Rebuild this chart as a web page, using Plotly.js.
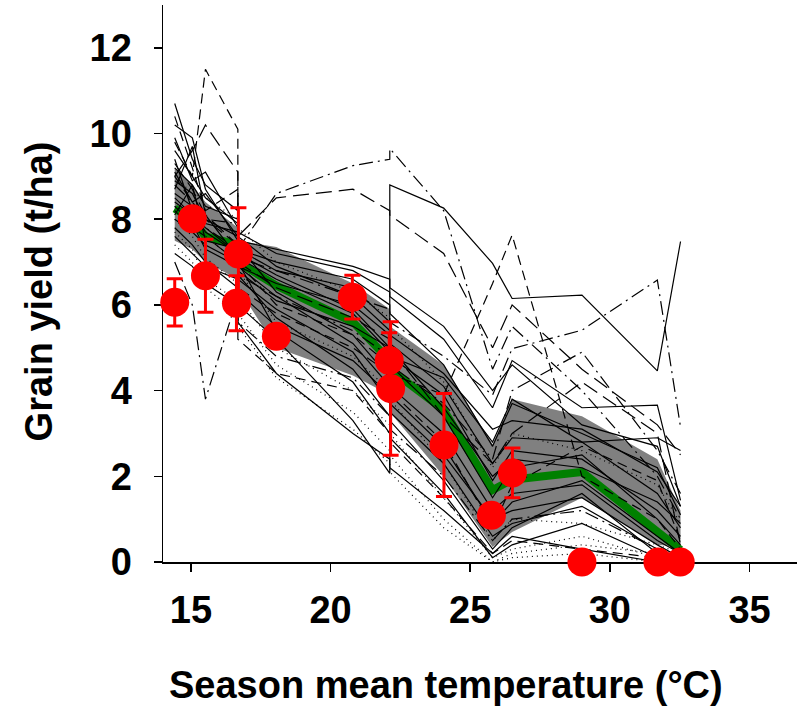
<!DOCTYPE html>
<html>
<head>
<meta charset="utf-8">
<script src="https://cdn.plot.ly/plotly-3.0.1.min.js"></script>
<style>html,body{margin:0;padding:0;background:#fff;}#chart{width:797px;height:708px;}</style>
</head>
<body>
<div id="chart"></div>
<script>
// Site season mean temperatures (model simulations are evaluated at these)
const siteT = [14.42, 15.05, 15.52, 16.68, 16.68, 18.06, 20.8, 22.12, 22.12, 24.05, 25.8, 26.5, 29.0, 31.7, 32.53];

// Ensemble median and inter-quartile band
const medianY = [8.25, 8.0, 7.6, 7.4, 7.0, 6.45, 5.6, 4.7, 4.5, 3.55, 1.68, 1.92, 2.1, 0.72, 0.28];
const bandUpper = [9.2, 8.8, 8.4, 7.8, 7.5, 7.35, 6.5, 5.9, 5.5, 4.6, 2.75, 3.8, 3.4, 2.4, 1.2];
const bandLower = [7.5, 7.3, 7.0, 6.6, 6.4, 5.0, 4.35, 3.9, 3.5, 2.0, 0.35, 0.7, 1.5, 0.4, 0.35];

// Individual crop models
const m01 = [8.9, 8.6, 8.0, 7.6, 7.2, 6.7, 5.9, 5.0, 4.8, 3.9, 1.9, 2.6, 2.4, 1.2, 0.6];
const m02 = [9.6, 9.0, 8.5, 7.9, 7.4, 6.3, 5.3, 4.3, 4.1, 3.0, 1.2, 1.6, 1.8, 0.5, 0.2];
const m03 = [10.7, 9.4, 8.8, 8.2, 7.3, 7.0, 6.6, 6.0, 5.8, 4.6, 2.7, 3.7, 3.0, 2.2, 1.1];
const m04 = [8.3, 7.9, 7.3, 6.9, 6.6, 5.9, 4.9, 3.7, 3.5, 2.3, 0.6, 0.9, 1.3, 0.3, 0.1];
const m05 = [7.8, 7.4, 7.0, 6.4, 6.0, 5.2, 3.3, 2.07, 8.8, 8.26, 6.97, 6.15, 6.23, 4.46, 7.48];
const m06 = [9.2, 8.8, 8.3, 8.0, 7.7, 7.2, 6.8, 6.3, 6.2, 5.2, 3.6, 4.7, 3.6, 3.66, 1.44];
const m07 = [8.0, 7.7, 7.4, 7.0, 6.8, 6.1, 5.5, 5.0, 4.8, 4.3, 2.8, 3.8, 2.8, 2.9, 2.6];
const m08 = [10.2, 9.9, 8.7, 7.5, 7.1, 6.6, 5.8, 4.9, 4.6, 3.4, 1.5, 2.2, 2.5, 1.0, 0.4];
const m09 = [8.6, 8.3, 7.9, 7.7, 7.5, 7.3, 6.9, 6.6, 6.4, 5.5, 4.0, 4.6, 3.2, 2.7, 1.3];
const m10 = [9.4, 8.2, 7.7, 7.2, 6.9, 6.2, 5.1, 4.1, 3.9, 2.7, 0.9, 1.4, 1.9, 0.6, 0.2];
const m11 = [8.7, 9.7, 8.1, 7.1, 6.7, 5.7, 4.5, 3.4, 3.3, 1.9, 0.3, 0.8, 1.6, 0.2, 0.0];
const m12 = [9.9, 8.9, 9.1, 7.8, 7.6, 6.9, 6.2, 5.4, 5.1, 4.1, 2.3, 2.9, 2.8, 1.6, 0.8];
const m13 = [7.6, 7.2, 6.9, 6.6, 6.3, 5.5, 4.7, 3.9, 3.7, 2.5, 1.0, 1.2, 1.5, 0.4, 0.1];
const m14 = [8.1, 8.8, 7.5, 7.3, 6.9, 6.5, 6.0, 5.3, 5.0, 3.6, 2.0, 2.4, 2.2, 1.4, 0.9];
const m15 = [9.1, 8.4, 8.6, 7.6, 7.3, 6.8, 6.4, 5.6, 5.3, 4.4, 3.1, 3.3, 3.1, 2.1, 1.3];
const m16 = [8.4, 8.1, 7.8, 7.2, 7.0, 5.4, 4.2, 3.0, 2.9, 1.6, 0.1, 0.4, 0.9, 0.1, 0.0];
const m17 = [9.8, 9.0, 11.5, 10.1, 5.2, 4.4, 4.0, 3.0, 2.8, 1.5, 0.2, 0.5, 0.3, 0.1, 0.0];
const m18 = [7.0, 6.0, 3.8, 6.2, 5.6, 4.8, 4.3, 3.4, 3.1, 2.0, 0.5, 1.0, 1.2, 0.3, 0.1];
const m19 = [8.8, 8.4, 8.0, 7.9, 7.3, 8.6, 9.25, 9.4, 9.65, 8.2, 4.5, 5.5, 4.0, 2.0, 1.0];
const m20 = [9.0, 8.4, 8.0, 7.4, 7.0, 6.0, 5.3, 4.6, 4.4, 3.9, 6.5, 7.63, 2.0, 1.0, 0.3];
const m21 = [8.5, 8.1, 7.8, 7.3, 7.1, 6.8, 6.2, 5.9, 5.6, 4.8, 3.9, 4.98, 5.41, 6.58, 3.15];
const m22 = [9.3, 8.7, 8.1, 7.4, 7.6, 8.5, 8.7, 8.2, 8.1, 7.2, 5.0, 6.0, 4.5, 3.2, 2.5];
const m23 = [10.4, 9.2, 8.2, 8.7, 6.4, 5.8, 5.0, 4.4, 4.0, 2.8, 0.8, 1.8, 2.7, 1.9, 0.5];
const m24 = [9.0, 9.6, 10.2, 9.1, 7.0, 6.4, 5.7, 5.2, 5.0, 3.4, 2.3, 3.0, 4.2, 3.0, 0.4];
const m25 = [8.2, 7.8, 7.6, 7.0, 6.7, 6.2, 5.4, 4.8, 4.6, 3.7, 2.4, 4.0, 4.9, 2.6, 1.6];
const m26 = [8.0, 7.6, 7.1, 6.5, 6.2, 5.0, 4.0, 3.2, 3.0, 1.5, 0.1, 0.3, 0.6, 0.1, 0.0];
const m27 = [7.7, 7.3, 6.6, 6.1, 5.8, 4.6, 3.5, 2.6, 2.5, 1.0, 0.0, 0.2, 0.4, 0.2, 0.0];
const m28 = [8.3, 8.1, 7.6, 7.0, 6.8, 5.6, 4.8, 4.0, 3.8, 2.3, 0.5, 1.0, 0.9, 0.4, 0.2];
const m29 = [9.0, 8.6, 8.5, 8.0, 7.8, 7.0, 6.3, 5.7, 5.5, 4.2, 2.2, 3.0, 2.6, 1.8, 0.9];
const m30 = [7.4, 7.0, 6.4, 5.8, 5.5, 4.3, 3.1, 2.3, 2.1, 0.8, 0.0, 0.1, 0.2, 0.0, 0.0];
const m31 = [7.2, 6.9, 6.5, 6.0, 5.6, 4.4, 3.0, 2.4, 2.2, 1.2, 0.2, 0.6, 0.3, 0.0, 0.0];

const models = [m01,m02,m03,m04,m05,m06,m07,m08,m09,m10,m11,m12,m13,m14,m15,m16,
                m17,m18,m19,m20,m21,m22,m23,m24,m25,m26,m27,m28,m29,m30,m31];

// Observations
const obsT = [14.42, 15.05, 15.52, 16.70, 16.63, 18.06, 20.78, 22.10, 22.15, 24.06, 25.76, 26.51, 29.0, 31.72, 32.52];
const obsY = [6.06, 8.01, 6.68, 7.19, 6.04, 5.27, 6.18, 4.70, 4.05, 2.73, 1.09, 2.08, 0.0, 0.0, 0.0];
const obsErr = [0.55, 0, 0.85, 1.08, 0.64, 0, 0.51, 0.65, 1.56, 1.2, 0, 0.58, 0, 0, 0];

const xTicks = [15, 20, 25, 30, 35];
const yTicks = [0, 2, 4, 6, 8, 10, 12];
const xTitle = 'Season mean temperature (°C)';
const yTitle = 'Grain yield (t/ha)';

// ---- styles (presentation only) ----
const DASH = {
  solid: 'solid',
  dot: '1px,4px',
  dash: '10px,6px',
  longdash: '16px,7px',
  dashdot: '14px,5px,2px,5px'
};
const modelStyle = ['solid','solid','solid','solid','solid','solid','solid','solid','solid','solid',
  'solid','solid','solid','solid','solid','solid',
  'dash','dashdot','dashdot','dash','dashdot','longdash','dash','longdash','dashdot',
  'dot','dot','dot','dot','dot','solid'];

const traces = [];
// grey band
traces.push({
  x: siteT.concat(siteT.slice().reverse()),
  y: bandUpper.concat(bandLower.slice().reverse()),
  type: 'scatter', mode: 'lines', fill: 'toself',
  fillcolor: '#808080', line: {width: 0, color: '#808080'},
  hoverinfo: 'skip', showlegend: false
});
// median
traces.push({
  x: siteT, y: medianY, type: 'scatter', mode: 'lines',
  line: {color: '#008000', width: 8}, showlegend: false
});
// models
models.forEach((m, i) => {
  traces.push({
    x: siteT, y: m, type: 'scatter', mode: 'lines',
    line: {color: '#000000', width: 1.2, dash: DASH[modelStyle[i]]},
    showlegend: false
  });
});
// observations
traces.push({
  x: obsT, y: obsY, type: 'scatter', mode: 'markers',
  marker: {color: '#FF0000', size: 29},
  error_y: {type: 'data', array: obsErr, visible: true, color: '#FF0000', thickness: 3, width: 8},
  cliponaxis: false, showlegend: false
});

const fam = 'Liberation Sans, Arial, sans-serif';
const tickFont = {family: fam, size: 38, color: '#000', weight: 'bold'};
const titleFont = {family: fam, size: 38, color: '#000', weight: 'bold'};

const layout = {
  width: 797, height: 708,
  margin: {l: 163, r: 0, t: 5, b: 146},
  paper_bgcolor: '#fff', plot_bgcolor: '#fff',
  showlegend: false,
  xaxis: {
    range: [14, 36.7], tickvals: xTicks, ticktext: xTicks.map(String),
    ticks: 'outside', ticklen: 8, tickwidth: 1.5, tickcolor: '#000',
    showline: true, linecolor: '#000', linewidth: 1.5,
    showgrid: false, zeroline: false, layer: 'below traces',
    tickfont: tickFont, ticklabelstandoff: 6
  },
  yaxis: {
    range: [0, 13], tickvals: yTicks, ticktext: yTicks.map(String),
    ticks: 'outside', ticklen: 8, tickwidth: 1.5, tickcolor: '#000',
    showline: true, linecolor: '#000', linewidth: 1.5,
    showgrid: false, zeroline: false, layer: 'below traces',
    tickfont: tickFont, ticklabelstandoff: 14
  },
  annotations: [
    {text: xTitle, xref: 'paper', yref: 'paper', x: 0.4464, y: -0.2605,
     xanchor: 'center', yanchor: 'bottom', borderpad: 0, showarrow: false, font: titleFont},
    {text: yTitle, xref: 'paper', yref: 'paper', x: -0.195, y: 0.4865, textangle: -90,
     xanchor: 'center', yanchor: 'middle', showarrow: false, font: titleFont}
  ]
};

Plotly.newPlot('chart', traces, layout, {staticPlot: true, displayModeBar: false});
</script>
</body>
</html>
